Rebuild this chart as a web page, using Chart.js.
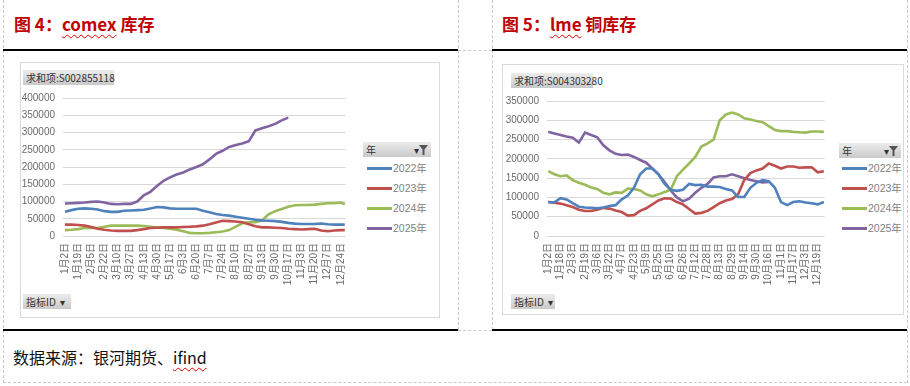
<!DOCTYPE html>
<html>
<head>
<meta charset="utf-8">
<script src="https://cdn.jsdelivr.net/npm/chart.js@4.4.1/dist/chart.umd.min.js"></script>
<style>
  body { margin: 0; width: 910px; height: 386px; background: #fff; position: relative; overflow: hidden;
         font-family: "Liberation Sans", "Noto Sans CJK SC", sans-serif; }
  .abs { position: absolute; }
  .dash-v { position: absolute; width: 0; border-left: 1px dashed #c8c8c8; }
  .dash-h { position: absolute; height: 0; border-top: 1px dashed #c8c8c8; }
  .rule { position: absolute; height: 0; border-top: 2px solid #000; }
  .title { position: absolute; font-family: "Noto Sans CJK SC", sans-serif; font-weight: bold; font-size: 17px;
           color: #c00000; line-height: 20px; white-space: nowrap; }
  .wavy { text-decoration: underline wavy #e00000; text-decoration-thickness: 1px; text-underline-offset: 3px; }
  .box { position: absolute; border: 1px solid #d9d9d9; box-sizing: border-box; }
  .btn { position: absolute; background: linear-gradient(#ececec, #c9c9c9); color: #333; font-size: 10px;
         font-family: "Noto Sans CJK SC", sans-serif; line-height: 15px; height: 15px; padding: 0 3px;
         white-space: nowrap; box-sizing: border-box; }
  .leg { position: absolute; font-size: 10.5px; color: #7f7f7f; }
  .leg div { position: relative; height: 20px; line-height: 20px; padding-left: 27px; }
  .leg span { position: absolute; left: 1px; top: 9px; width: 25px; height: 3px; }
  canvas { position: absolute; }
</style>
</head>
<body>
<!-- frame -->
<div class="dash-v" style="left:3px;top:0;height:383px"></div>
<div class="dash-v" style="left:458px;top:0;height:330px"></div>
<div class="dash-v" style="left:492px;top:0;height:330px"></div>
<div class="dash-v" style="left:907px;top:0;height:383px"></div>
<div class="dash-h" style="left:3px;top:382px;width:904px"></div>
<div class="dash-h" style="left:458px;top:50px;width:34px"></div>
<div class="dash-h" style="left:458px;top:330px;width:34px"></div>
<div class="rule" style="left:3px;top:49px;width:455px"></div>
<div class="rule" style="left:492px;top:49px;width:415px"></div>
<div class="rule" style="left:3px;top:329px;width:455px"></div>
<div class="rule" style="left:492px;top:329px;width:415px"></div>

<div class="title" style="left:14px;top:14px">图 4：<span class="wavy">comex</span> 库存</div>
<div class="title" style="left:502px;top:14px">图 5：<span class="wavy">lme</span> 铜库存</div>
<div class="abs" style="left:13px;top:345px;font-family:'Noto Sans CJK SC',sans-serif;font-size:16px;color:#111;white-space:nowrap">数据来源：银河期货、<span class="wavy">ifind</span></div>

<!-- left chart box -->
<div class="box" style="left:20px;top:62px;width:420px;height:256px"></div>
<div class="btn" style="left:23px;top:70px;width:91px">求和项:S002855118</div>
<div class="btn" style="left:23px;top:294px;width:48px">指标ID &nbsp;▾</div>
<div class="btn" style="left:363px;top:142px;width:68px">年<span style="position:absolute;right:3px;top:0">▾<svg width="9" height="10" viewBox="0 0 9 10" style="vertical-align:-1px"><path d="M0 0H9L5.5 4.5V10H3.5V4.5Z" fill="#555"/></svg></span></div>
<div class="leg" id="legL" style="left:366px;top:158px"></div>
<canvas id="comex" width="340" height="234" style="left:20px;top:62px"></canvas>

<!-- right chart box -->
<div class="box" style="left:502px;top:64px;width:402px;height:251px"></div>
<div class="btn" style="left:511px;top:73px;width:82px">求和项:S004303280</div>
<div class="btn" style="left:511px;top:294px;width:44px">指标ID &nbsp;▾</div>
<div class="btn" style="left:839px;top:143px;width:62px">年<span style="position:absolute;right:3px;top:0">▾<svg width="9" height="10" viewBox="0 0 9 10" style="vertical-align:-1px"><path d="M0 0H9L5.5 4.5V10H3.5V4.5Z" fill="#555"/></svg></span></div>
<div class="leg" id="legR" style="left:841px;top:158px"></div>
<canvas id="lme" width="335" height="232" style="left:502px;top:64px"></canvas>

<script>
// series names / colours (Office palette)
var years = ['2022年', '2023年', '2024年', '2025年'];
var colors = ['#4f81bd', '#c0504d', '#9bbb59', '#8064a2'];

// ---- comex: tick labels and sample positions (index of tick label) ----
var comexTicks = ['1月2日','1月19日','2月5日','2月22日','3月10日','3月27日','4月13日','4月30日','5月17日','6月3日','6月20日',
                  '7月7日','7月24日','8月10日','8月27日','9月13日','9月30日','10月17日','11月3日','11月20日','12月7日','12月24日'];
var comexPos = [0,0.5,1,1.5,2,2.5,3,3.5,4,4.5,5,5.5,6,6.5,7,7.5,8,8.5,9,9.5,10,10.5,
                11,11.5,12,12.5,13,13.5,14,14.5,15,15.5,16,16.5,17,17.5,18,18.5,19,19.5,20,20.5,21,21.3];
var comex2022 = [70000,75000,79000,80000,79000,77000,72000,70000,70000,73000,74000,75000,76000,80000,84000,83000,80000,79000,79000,79000,79000,73000,
                 69000,64000,61000,59000,56000,53000,50000,47000,45000,44000,43000,41000,38000,36000,35000,35000,35000,36000,34000,33000,33000,33000];
var comex2023 = [33000,33000,32000,30000,26000,21000,18000,16000,15000,15000,15000,17000,20000,23000,24000,25000,25000,25000,26000,27000,28000,30000,
                 34000,39000,44000,43000,42000,40000,34000,28000,25000,25000,24000,23000,21000,20000,19000,20000,21000,16000,14000,16000,17000,17000];
var comex2024 = [17000,18000,20000,23000,23000,23000,27000,30000,30000,30000,30000,30000,29000,27000,25000,23000,21000,18000,14000,9000,8000,8000,
                 9000,11000,13000,17000,27000,37000,40000,40000,45000,63000,72000,78000,85000,89000,90000,90000,91000,93000,95000,95000,97000,92000];
var comex2025 = [94000,95000,96000,97000,99000,100000,97000,93000,92000,93000,93000,100000,118000,128000,145000,160000,170000,178000,184000,193000,200000,208000,
                 222000,238000,247000,258000,264000,268000,275000,306000,312000,318000,325000,335000,343000,null,null,null,null,null,null,null,null,null];

// ---- lme ----
var lmeTicks = ['1月2日','1月18日','2月3日','2月19日','3月6日','3月22日','4月7日','4月23日','5月9日','5月25日','6月10日','6月26日',
                '7月12日','7月28日','8月13日','8月29日','9月14日','9月30日','10月16日','11月1日','11月17日','12月3日','12月19日'];
var lmePos = [0,0.5,1,1.5,2,2.5,3,3.5,4,4.5,5,5.5,6,6.5,7,7.5,8,8.5,9,9.5,10,10.5,11,
              11.5,12,12.5,13,13.5,14,14.5,15,15.5,16,16.5,17,17.5,18,18.5,19,19.5,20,20.5,21,21.5,22,22.5];
var lme2022 = [88000,87000,98000,95000,85000,76000,74000,73000,72000,74000,78000,80000,95000,105000,125000,160000,175000,175000,160000,135000,120000,117000,120000,
               135000,132000,133000,128000,128000,127000,122000,118000,101000,101000,125000,138000,145000,142000,125000,88000,80000,88000,90000,87000,85000,82000,88000];
var lme2023 = [88000,86000,84000,80000,75000,68000,65000,65000,68000,73000,71000,66000,62000,53000,54000,65000,72000,82000,92000,98000,97000,88000,82000,
               70000,58000,60000,65000,75000,85000,92000,96000,108000,145000,163000,170000,175000,188000,182000,175000,180000,180000,177000,178000,178000,165000,168000];
var lme2024 = [168000,160000,155000,157000,145000,138000,133000,126000,122000,112000,108000,113000,112000,123000,122000,118000,108000,103000,108000,114000,120000,155000,172000,
               188000,205000,232000,240000,250000,300000,315000,320000,315000,305000,302000,298000,295000,285000,275000,272000,272000,270000,269000,268000,271000,271000,270000];
var lme2025 = [270000,266000,262000,258000,255000,242000,268000,262000,256000,235000,222000,213000,210000,211000,205000,197000,190000,175000,160000,140000,118000,100000,90000,
               97000,112000,125000,135000,152000,155000,155000,160000,155000,150000,145000,142000,139000,140000,null,null,null,null,null,null,null,null,null];

var tickFont = { family: '"Liberation Sans", "Noto Sans CJK SC", sans-serif', size: 10 };
var tickColor = '#6b6b6b';

function makeChart(id, ticks, pos, series, xMin, xMax, yMax, yWidth, padTop, padRight) {
  var datasets = series.map(function(vals, k) {
    return {
      label: years[k],
      data: vals.map(function(v, i) { return { x: pos[i], y: v }; }),
      borderColor: colors[k],
      backgroundColor: colors[k],
      borderWidth: 2.6,
      pointRadius: 0,
      tension: 0,
      spanGaps: false
    };
  });
  return new Chart(document.getElementById(id), {
    type: 'line',
    data: { datasets: datasets },
    options: {
      responsive: false,
      animation: false,
      layout: { padding: { top: padTop, right: padRight, left: 0, bottom: 0 } },
      plugins: { legend: { display: false }, tooltip: { enabled: false } },
      scales: {
        x: {
          type: 'linear', min: xMin, max: xMax,
          afterBuildTicks: function(s) { s.ticks = ticks.map(function(_, i) { return { value: i }; }); },
          afterFit: function(s) { s.height = 60; },
          grid: { display: false, drawTicks: false },
          border: { display: false },
          ticks: {
            autoSkip: false, minRotation: 90, maxRotation: 90, padding: 7,
            font: tickFont, color: tickColor,
            callback: function(v) { return ticks[v]; }
          }
        },
        y: {
          min: 0, max: yMax,
          afterFit: function(s) { s.width = yWidth; },
          grid: { color: '#d9d9d9', drawTicks: false, lineWidth: 1 },
          border: { display: false },
          ticks: { stepSize: 50000, padding: 8, font: tickFont, color: tickColor,
                   callback: function(v) { return String(v); } }
        }
      }
    }
  });
}

makeChart('comex', comexTicks, comexPos, [comex2022, comex2023, comex2024, comex2025], -0.15, 21.38, 400000, 43, 36, 10);
makeChart('lme', lmeTicks, lmePos, [lme2022, lme2023, lme2024, lme2025], -0.1, 22.57, 350000, 45, 37, 10);

// legends
['legL', 'legR'].forEach(function(id) {
  var el = document.getElementById(id);
  years.forEach(function(y, k) {
    var row = document.createElement('div');
    row.innerHTML = '<span style="background:' + colors[k] + '"></span>' + y;
    el.appendChild(row);
  });
});
</script>
</body>
</html>
